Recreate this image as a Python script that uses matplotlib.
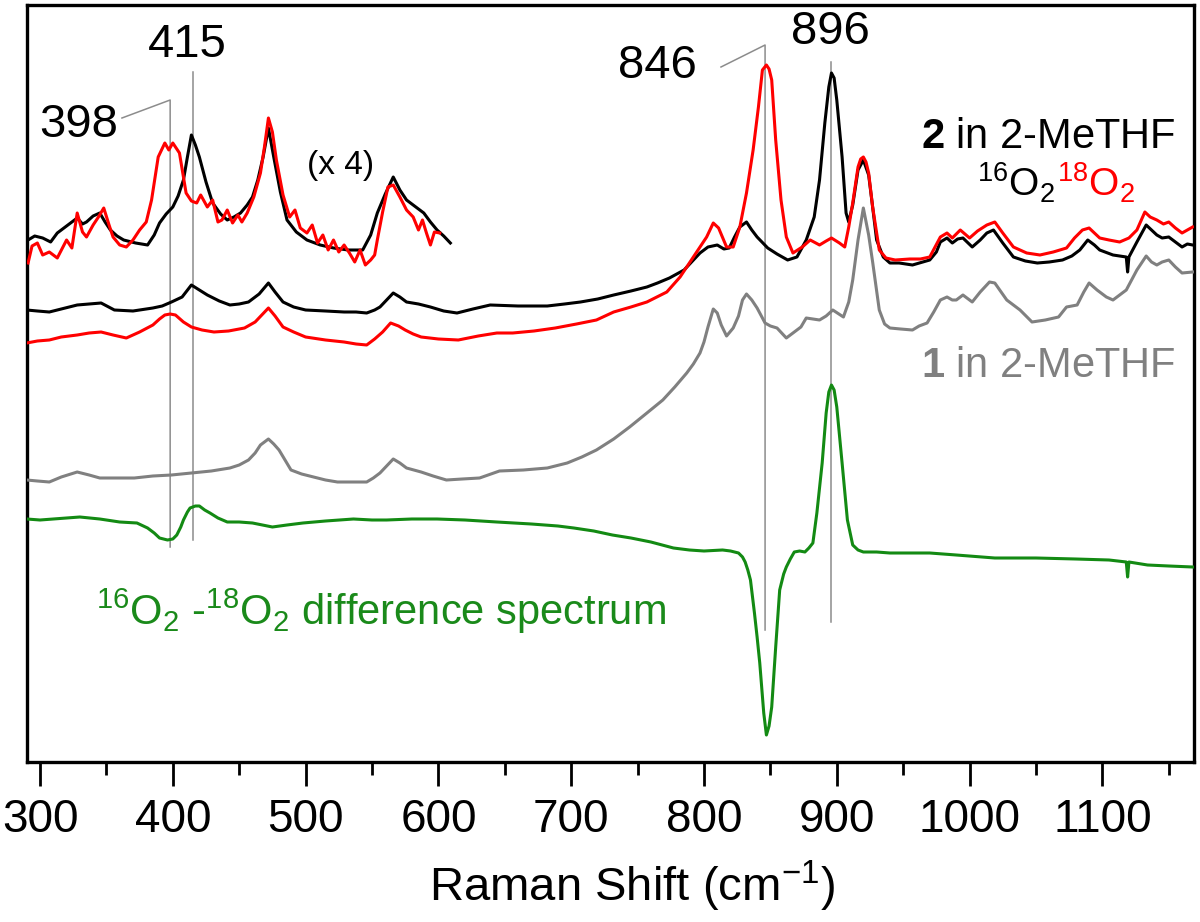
import matplotlib
matplotlib.use("Agg")
import matplotlib.pyplot as plt
from matplotlib.ticker import MultipleLocator

plt.rcParams['font.family'] = ['Liberation Sans', 'DejaVu Sans']
plt.rcParams['mathtext.fontset'] = 'custom'
plt.rcParams['mathtext.rm'] = 'Liberation Sans'
plt.rcParams['mathtext.it'] = 'Liberation Sans:italic'
plt.rcParams['mathtext.bf'] = 'Liberation Sans:bold'

# ---------------- data (Raman shift in cm-1, intensity in arbitrary offset units) ----------------
x_black = [290, 298, 307, 316, 328, 337, 346, 356, 370, 385, 392, 399, 407, 414, 420, 426, 435, 443,
           450, 457, 465, 472, 477, 483, 491, 500, 515, 529, 538, 546, 552, 556, 561, 566, 571, 576,
           585, 594, 604, 614, 626, 639, 660, 682, 695, 707, 720, 732, 745, 757, 765, 774, 785, 797,
           803, 810, 815, 819, 823, 827, 832, 836, 840, 848, 855, 863, 870, 877, 883, 887, 891, 894,
           896, 898, 900, 904, 907, 909, 912, 916, 920, 924, 927, 930, 935, 940, 947, 957, 970, 975,
           978, 983, 987, 991, 995, 1002, 1008, 1013, 1018, 1025, 1033, 1042, 1051, 1060, 1070, 1077,
           1083, 1089, 1094, 1098, 1108, 1113, 1118, 1119, 1120, 1126, 1133, 1137, 1141, 1145, 1150,
           1155, 1160, 1164, 1168]
y_black = [452, 451, 450, 453, 457, 458, 459, 452, 451, 454, 456, 460, 465, 477, 472, 467, 461, 457,
           458, 460, 468, 479, 470, 460, 455, 452, 451, 450, 450, 449, 452, 455, 462, 469, 465, 460,
           458, 455, 451, 449, 453, 457, 456, 456, 458, 460, 463, 467, 471, 475, 479, 484, 492, 509,
           515, 517, 513, 514, 525, 535, 540, 532, 525, 514, 508, 502, 505, 522, 545, 582, 639, 675,
           689, 684, 662, 605, 549, 540, 557, 592, 602, 587, 555, 522, 505, 499, 499, 497, 502, 510,
           520, 524, 519, 523, 524, 515, 522, 529, 532, 519, 505, 501, 499, 500, 502, 506,
           512, 522, 517, 512, 507, 506, 505, 490, 505, 520, 537, 532, 527, 524, 525,
           520, 515, 518, 517]

x_red = [290, 298, 307, 316, 328, 337, 346, 355, 365, 375, 385, 390, 394, 398, 402, 408, 414, 422,
         431, 442, 454, 462, 467, 472, 477, 483, 491, 500, 515, 529, 538, 546, 552, 558, 564, 570,
         575, 581, 587, 600, 615, 630, 644, 656, 672, 688, 704, 719, 732, 745, 757, 772, 782, 792,
         802, 807, 811, 817, 822, 827, 832, 837, 841, 844, 847, 849, 851, 854, 858, 862, 867, 874,
         880, 887, 892, 896, 902, 906, 909, 912, 916, 918, 920, 922, 924, 927, 932, 937, 944, 955,
         963, 970, 978, 983, 987, 993, 1000, 1006, 1013, 1019, 1025, 1033, 1043, 1053, 1063, 1073,
         1079, 1085, 1090, 1098, 1105, 1113, 1120, 1126, 1132, 1136, 1141, 1146, 1150, 1155, 1160,
         1164, 1168]
y_red = [419, 421, 422, 425, 427, 429, 430, 427, 424, 430, 437, 443, 447, 448, 447, 440, 435, 432,
         430, 431, 434, 440, 447, 454, 446, 435, 430, 425, 422, 420, 418, 417, 423, 430, 439, 436,
         432, 428, 425, 423, 422, 426, 429, 429, 431, 434, 438, 442, 450, 455, 460, 470, 485, 505,
         525, 539, 534, 515, 515, 535, 569, 612, 655, 692, 697, 693, 682, 622, 562, 525, 509, 515,
         522, 517, 521, 524, 519, 515, 535, 559, 595, 603, 605, 600, 589, 555, 512, 504, 502, 503,
         503, 505, 525, 529, 524, 532, 524, 531, 537, 540, 529, 515, 509, 507, 510, 514,
         524, 532, 534, 524, 522, 520, 524, 532, 550, 545, 542, 538, 540, 534, 529,
         532, 535]

x_gray = [290, 298, 307, 316, 328, 337, 345, 358, 371, 385, 399, 414, 429, 443, 450, 457, 462, 466,
          472, 476, 480, 489, 497, 506, 515, 524, 535, 546, 551, 556, 561, 566, 571, 576, 587, 596,
          606, 618, 631, 646, 664, 682, 697, 708, 719, 732, 744, 757, 769, 778, 787, 792, 797, 800,
          803, 807, 810, 813, 817, 822, 826, 829, 832, 836, 840, 846, 850, 855, 862, 868, 873, 877,
          882, 887, 892, 897, 905, 909, 912, 916, 920, 924, 927, 932, 936, 940, 948, 957, 962, 968,
          973, 978, 983, 987, 990, 995, 1002, 1008, 1015, 1019, 1028, 1038, 1047, 1057, 1067, 1073,
          1081, 1086, 1090, 1096, 1103, 1108, 1113, 1118, 1122, 1126, 1133, 1137, 1141, 1145, 1150,
          1155, 1160, 1168]
y_gray = [282, 281, 280, 285, 290, 287, 284, 284, 284, 286, 287, 289, 291, 294, 297, 302, 309, 317,
          323, 318, 312, 292, 288, 285, 282, 280, 280, 280, 284, 289, 296, 303, 299, 294, 290, 286,
          282, 283, 284, 291, 292, 294, 299, 305, 312, 323, 335, 349, 362, 375, 389, 398, 409, 420,
          435, 453, 449, 437, 426, 434, 446, 462, 468, 462, 454, 439, 436, 434, 424, 430, 435, 444,
          443, 442, 446, 452, 445, 460, 482, 522, 554, 527, 500, 452, 438, 434, 433, 432, 436, 439,
          450, 462, 465, 462, 462, 467, 460, 470, 480, 479, 462, 452, 440, 442, 445, 455,
          457, 470, 479, 472, 465, 462, 467, 472, 482, 492, 506, 500, 497, 500, 502,
          495, 489, 490]

x_diff = [290, 300, 310, 320, 330, 345, 360, 373, 381, 386, 390, 396, 400, 403, 406, 408, 411, 413,
          417, 420, 424, 428, 434, 441, 450, 460, 475, 486, 498, 515, 536, 550, 561, 580, 599, 620,
          644, 670, 690, 702, 717, 731, 745, 760, 777, 789, 800, 814, 820, 826, 829, 831, 833, 835,
          838, 840, 842, 845, 847, 849, 851, 854, 857, 860, 862, 865, 868, 872, 876, 879, 882, 885,
          889, 892, 894, 896, 898, 900, 904, 908, 912, 916, 920, 930, 940, 955, 970, 990, 1019, 1050,
          1080, 1105, 1118, 1119, 1120, 1134, 1150, 1168]
y_diff = [243, 242, 243, 244, 245, 243, 240, 239, 234, 229, 224, 222, 223, 227, 235, 242, 250, 254,
          256, 256, 252, 249, 244, 240, 240, 239, 235, 237, 239, 241, 243, 242, 242, 243, 243, 242,
          240, 238, 236, 234, 231, 227, 224, 220, 214, 212, 211, 212, 211, 209, 205, 200, 192, 182,
          149, 125, 99, 49, 27, 36, 55, 115, 172, 188, 195, 203, 210, 211, 210, 214, 219, 249,
          299, 349, 370, 377, 372, 355, 299, 242, 217, 212, 210, 210, 209, 209, 209, 207, 204, 204,
          203, 202, 200, 185, 200, 197, 196, 195]

# x4 expanded low-frequency region
x_black4 = [291, 296, 302, 308, 313, 320, 328, 332, 335, 340, 345, 349, 353, 358, 363, 372, 381, 386,
            390, 395, 400, 404, 408, 411, 414, 417, 420, 425, 430, 436, 441, 446, 451, 456, 460, 464,
            468, 472, 476, 481, 486, 493, 501, 511, 521, 532, 543, 549, 554, 560, 566, 571, 576, 582,
            589, 594, 599, 604, 609]
y_black4 = [522, 526, 524, 520, 529, 536, 544, 538, 540, 546, 549, 540, 532, 526, 522, 519, 517, 527,
            539, 548, 555, 566, 582, 605, 627, 617, 605, 580, 559, 548, 542, 545, 549, 557, 565, 582,
            605, 634, 605, 570, 542, 530, 522, 517, 514, 512, 512, 527, 549, 568, 585, 572, 562, 556,
            549, 540, 532, 526, 519]

x_red4 = [291, 294, 298, 302, 307, 313, 320, 324, 328, 332, 335, 340, 344, 348, 352, 355, 360, 365,
          370, 375, 380, 384, 389, 394, 397, 400, 405, 410, 414, 418, 421, 426, 430, 434, 437, 441,
          445, 449, 452, 456, 461, 466, 469, 472, 475, 478, 483, 488, 492, 496, 501, 505, 509, 513,
          517, 521, 525, 529, 533, 537, 541, 545, 549, 552, 554, 558, 562, 566, 571, 576, 581, 585,
          588, 591, 594, 597, 601]
y_red4 = [499, 516, 519, 507, 510, 504, 522, 514, 549, 530, 525, 537, 545, 554, 537, 525, 517, 515,
          522, 532, 540, 562, 605, 619, 612, 619, 609, 569, 561, 559, 567, 555, 562, 540, 542, 552,
          539, 547, 540, 549, 565, 589, 615, 644, 630, 602, 567, 545, 552, 534, 529, 537, 519, 527,
          512, 522, 510, 517, 509, 500, 512, 497, 502, 507, 522, 550, 575, 577, 565, 552, 545, 532,
          542, 529, 517, 530, 529]

peak_labels = ["398", "415", "846", "896"]
xticks_major = [300, 400, 500, 600, 700, 800, 900, 1000, 1100]

# ---------------- figure ----------------
fig = plt.figure(figsize=(12, 9.22), dpi=100)
ax = fig.add_axes([27 / 1200, 1 - 762 / 922, (1194 - 27) / 1200, (762 - 5) / 922])
ax.set_xlim(290.2, 1169.0)
ax.set_ylim(0, 757)

ann_kw = dict(color='#8c8c8c', lw=1.1, zorder=1)
# 398
ax.plot([361.7, 398, 398], [644, 662, 215], **ann_kw)
ax.text(359, 637, peak_labels[0], fontsize=34, ha='right', va='center')
# 415
ax.plot([415, 415], [690, 222], **ann_kw)
ax.text(411, 717, peak_labels[1], fontsize=34, ha='center', va='center')
# 846
ax.plot([812.8, 846, 846], [695, 717, 132], **ann_kw)
ax.text(794.7, 696, peak_labels[2], fontsize=34, ha='right', va='center')
# 896
ax.plot([896, 896], [700, 140], **ann_kw)
ax.text(895, 730, peak_labels[3], fontsize=34, ha='center', va='center')

lw = 2.2
ax.plot(x_gray, y_gray, color='#808080', lw=lw, zorder=3)
ax.plot(x_black, y_black, color='black', lw=lw, zorder=4)
ax.plot(x_red, y_red, color='#ff0000', lw=lw, zorder=5)
ax.plot(x_black4, y_black4, color='black', lw=lw, zorder=4)
ax.plot(x_red4, y_red4, color='#ff0000', lw=lw, zorder=5)
ax.plot(x_diff, y_diff, color='#138a13', lw=lw, zorder=4)

ax.text(526, 597, "(x 4)", fontsize=24, ha='center', va='center')
ax.text(1155.4, 614, r"$\mathbf{2}$ in 2-MeTHF", fontsize=30, ha='right', va='baseline')
ax.text(1064.3, 565, r"$^{16}$O$_2$", fontsize=28, ha='right', va='baseline', color='black')
ax.text(1065.5, 565, r"$^{18}$O$_2$", fontsize=28, ha='left', va='baseline', color='#ff0000')
ax.text(1155.4, 385, r"$\mathbf{1}$ in 2-MeTHF", fontsize=30, ha='right', va='baseline', color='#808080')
ax.text(342, 137, r"$^{16}$O$_2$ -$^{18}$O$_2$ difference spectrum", fontsize=30, ha='left',
        va='baseline', color='#1a8a1a')

ax.set_xticks(xticks_major)
ax.xaxis.set_minor_locator(MultipleLocator(50))
ax.set_yticks([])
ax.tick_params(axis='x', which='major', direction='out', length=17, width=2.0, labelsize=33, pad=9)
ax.tick_params(axis='x', which='minor', direction='out', length=9, width=2.0)
for s in ax.spines.values():
    s.set_linewidth(2.4)
ax.set_xlabel(r"Raman Shift (cm$^{-1}$)", fontsize=34, labelpad=12)
ax.xaxis.label.set_x((632 - 27) / 1167)

fig.savefig("out.png", dpi=100)
